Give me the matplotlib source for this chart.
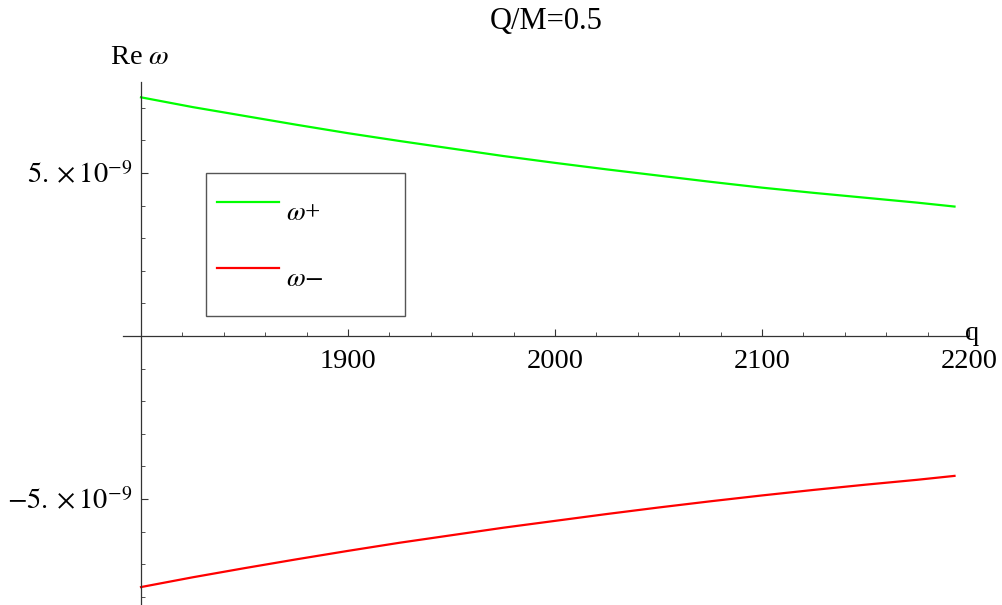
import numpy as np
import matplotlib
matplotlib.use("Agg")
import matplotlib.pyplot as plt
from matplotlib.ticker import MultipleLocator, FixedLocator, FixedFormatter

plt.rcParams['font.family'] = ['Liberation Serif', 'DejaVu Serif']
plt.rcParams['mathtext.fontset'] = 'stix'

# values
q = [1800, 1825, 1850, 1875, 1900, 1925, 1950, 1975, 2000, 2025,
     2050, 2075, 2100, 2125, 2150, 2175, 2193]
w_plus = [7.32, 7.02, 6.75, 6.48, 6.22, 5.98, 5.75, 5.52, 5.31, 5.11,
          4.92, 4.73, 4.55, 4.39, 4.24, 4.09, 3.97]
w_minus = [-7.70, -7.40, -7.12, -6.85, -6.59, -6.34, -6.11, -5.88, -5.67, -5.46,
           -5.26, -5.07, -4.89, -4.72, -4.56, -4.41, -4.29]
scale = 1e-9
x_ticks = [1900, 2000, 2100, 2200]
y_ticks = [-5e-9, 5e-9]
y_tick_labels = [r'$-5.\times10^{-9}$', r'$5.\times10^{-9}$']

fig = plt.figure(figsize=(10.03, 6.05), dpi=100)
ax = fig.add_axes([123 / 1003, 0.0, (969 - 123) / 1003, 1 - 82 / 605])

ax.plot(q, np.array(w_plus) * scale, color='#00ff00', lw=1.6, label=r'$\omega$+')
ax.plot(q, np.array(w_minus) * scale, color='#ff0000', lw=1.6, label=r'$\omega$$-$')

ax.set_xlim(1791.3, 2200)
ax.set_ylim(-8.25e-9, 7.79e-9)

# Mathematica style axes crossing at (1800, 0)
for s in ['top', 'right']:
    ax.spines[s].set_visible(False)
ax.spines['left'].set_position(('data', 1800))
ax.spines['bottom'].set_position(('data', 0))
for s in ['left', 'bottom']:
    ax.spines[s].set_color('#333333')
    ax.spines[s].set_linewidth(0.9)

ax.xaxis.set_major_locator(FixedLocator(x_ticks))
ax.xaxis.set_minor_locator(MultipleLocator(20))
ax.yaxis.set_major_locator(FixedLocator(y_ticks))
ax.yaxis.set_major_formatter(FixedFormatter(y_tick_labels))
ax.yaxis.set_minor_locator(MultipleLocator(1e-9))
ax.tick_params(which='both', direction='in', colors='#333333', labelcolor='black', labelsize=20.5)
ax.tick_params(which='major', length=5, width=0.8)
ax.tick_params(which='minor', length=3, width=0.6)
ax.tick_params(axis='x', pad=9)
ax.tick_params(axis='y', pad=6)

ax.annotate('q', xy=(2200, 0), xytext=(-3, 2), textcoords='offset points',
            fontsize=20.5, ha='left', va='center', annotation_clip=False)

fig.text(140 / 1003, 1 - 58 / 605, r'Re $\omega$', fontsize=20.5, ha='center', va='center')
fig.text(546 / 1003, 1 - 22 / 605, 'Q/M=0.5', fontsize=22, ha='center', va='center')

leg = ax.legend(loc='upper left', bbox_to_anchor=(206 / 1003, 1 - 323 / 605, 199 / 1003, 150 / 605),
                bbox_transform=fig.transFigure, mode='expand', fontsize=19.5,
                borderpad=0.4, labelspacing=0.42, handleheight=2.76,
                handlelength=2.3, handletextpad=0.25,
                fancybox=False, framealpha=1, borderaxespad=0)
leg.get_frame().set_edgecolor('#555555')
leg.get_frame().set_linewidth(1.0)

fig.savefig('out.png', dpi=100)
